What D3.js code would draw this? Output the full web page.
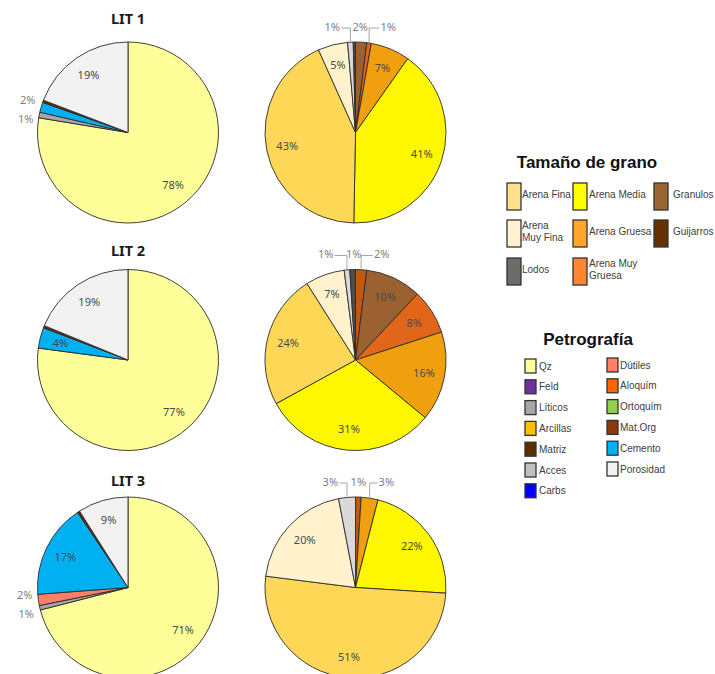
<!DOCTYPE html>
<html><head><meta charset="utf-8">
<script src="https://cdn.jsdelivr.net/npm/d3@7"></script>
<style>body{margin:0;background:#fff}svg{display:block}</style>
</head><body>
<svg id="chart" width="715" height="674"></svg>
<script>
// ---------- DATA ----------
const litTitles = ["LIT 1", "LIT 2", "LIT 3"];

// Petrografía pies (clockwise from 12 o'clock)
const petroCats1 = ["Qz", "Líticos", "Cemento", "Matriz", "Porosidad"];
const petroVals1 = [77.6, 1.0, 1.8, 0.4, 19.2];
const petroCats2 = ["Qz", "Cemento", "Matriz", "Porosidad"];
const petroVals2 = [77.1, 3.7, 0.4, 18.8];
const petroCats3 = ["Qz", "Líticos", "Dútiles", "Cemento", "Matriz", "Porosidad"];
const petroVals3 = [71.0, 0.8, 2.0, 16.8, 0.4, 9.0];

// Tamaño de grano pies (clockwise from 12 o'clock)
const grainCats1 = ["Granulos", "Arena Muy Gruesa", "Arena Gruesa", "Arena Media", "Arena Fina", "Arena Muy Fina", "Limo", "Lodos"];
const grainVals1 = [2.0, 0.8, 7.0, 40.5, 43.0, 5.3, 1.0, 0.4];
const grainCats2 = ["Guijarros", "Granulos", "Arena Muy Gruesa", "Arena Gruesa", "Arena Media", "Arena Fina", "Arena Muy Fina", "Limo", "Lodos"];
const grainVals2 = [2, 10, 8, 16, 31, 24, 7, 1, 1];
const grainCats3 = ["Guijarros", "Arena Gruesa", "Arena Media", "Arena Fina", "Arena Muy Fina", "Limo"];
const grainVals3 = [1, 3, 22, 51, 20, 3];

// Legends
const grainLegendLabels = ["Arena Fina", "Arena Media", "Granulos", "Arena\nMuy Fina", "Arena Gruesa", "Guijarros", "Lodos", "Arena Muy\nGruesa"];
const grainLegendColors = ["#FFE08C", "#FFFF00", "#996633", "#FFF2D2", "#FFA62B", "#633000", "#6E6B6B", "#FF8533"];
const petroLegendLabels = ["Qz", "Feld", "Líticos", "Arcillas", "Matriz", "Acces", "Carbs", "Dútiles", "Aloquím", "Ortoquím", "Mat.Org", "Cemento", "Porosidad"];
const petroLegendColors = ["#FFFF99", "#7030A0", "#A6A6A6", "#FFC000", "#5C2E00", "#BFBFBF", "#0000FF", "#FF8066", "#FF6600", "#92D050", "#8B3A0E", "#00B0F0", "#F2F2F2"];

// slice colours
const petroColor = d3.scaleOrdinal().domain(petroLegendLabels).range(petroLegendColors);
const grainSliceCats = ["Arena Muy Fina", "Arena Fina", "Arena Media", "Arena Gruesa", "Arena Muy Gruesa", "Granulos", "Guijarros", "Lodos", "Limo"];
const grainSliceColors = ["#FFF2CC", "#FFD757", "#FFF700", "#F0A00F", "#E2661A", "#9C6130", "#C0580F", "#4D4D4D", "#D9D9D9"];
const grainColor = d3.scaleOrdinal().domain(grainSliceCats).range(grainSliceColors);

// ---------- LAYOUT ----------
const svg = d3.select("#chart");
const R = 90.5;
const colCX = [128, 355.5];
const rowCY = [132.5, 360, 587.5];
const titleY = [24, 256, 486];

const petroSets = [[petroCats1, petroVals1], [petroCats2, petroVals2], [petroCats3, petroVals3]];
const grainSets = [[grainCats1, grainVals1], [grainCats2, grainVals2], [grainCats3, grainVals3]];

const pie = d3.pie().sort(null).value(d => d.v);
const arc = d3.arc().innerRadius(0).outerRadius(R);
const labelArc = d3.arc().innerRadius(R * 0.77).outerRadius(R * 0.77);

function drawPie(cx, cy, cats, vals, colorFn, side) {
  const data = cats.map((c, i) => ({ c, v: vals[i] }));
  const total = d3.sum(vals);
  const arcs = pie(data);
  const g = svg.append("g").attr("transform", `translate(${cx},${cy})`);
  g.selectAll("path").data(arcs).join("path")
    .attr("d", arc)
    .attr("fill", d => colorFn(d.data.c))
    .attr("stroke", "#2b2b2b")
    .attr("stroke-width", 0.9)
    .attr("stroke-linejoin", "round");

  const lab = arcs.map(d => ({ d, pct: Math.round(d.data.v / total * 100), mid: (d.startAngle + d.endAngle) / 2 }))
    .filter(o => o.pct >= 1);
  const inner = lab.filter(o => o.pct >= 4);
  const outer = lab.filter(o => o.pct < 4);

  g.selectAll("text.in").data(inner).join("text")
    .attr("class", "in")
    .attr("transform", o => `translate(${labelArc.centroid(o.d)})`)
    .attr("text-anchor", "middle").attr("dy", "0.35em")
    .attr("font-family", "Noto Sans, sans-serif").attr("font-size", 11)
    .attr("fill", "#4a4a4a")
    .text(o => o.pct + "%");

  if (side === "left") {
    // labels to the left of the pie, spread vertically
    const items = outer.map(o => ({ o, x: (R + 6) * Math.sin(o.mid), y: -(R + 6) * Math.cos(o.mid) }))
      .sort((p, q) => p.y - q.y);
    const gapY = 19;
    const meanY = d3.mean(items, it => it.y);
    items.forEach((it, i) => { it.ly = meanY + (i - (items.length - 1) / 2) * gapY; });
    items.forEach(it => {
      g.append("text")
        .attr("x", it.x).attr("y", it.ly).attr("dy", "0.35em")
        .attr("text-anchor", "end")
        .attr("font-family", "Noto Sans, sans-serif").attr("font-size", 11)
        .attr("fill", "#7f7f7f")
        .text(it.o.pct + "%");
    });
  } else {
    // labels above the pie, spread horizontally, with leader lines
    const items = outer.map(o => {
      const a = o.mid > Math.PI ? o.mid - 2 * Math.PI : o.mid;
      return { o, a, ax: R * Math.sin(a), ay: -R * Math.cos(a) };
    }).sort((p, q) => p.a - q.a);
    const gap = 28;
    const mean = d3.mean(items, it => it.ax);
    items.forEach((it, i) => { it.lx = mean + (i - (items.length - 1) / 2) * gap; });
    const ly = -R - 15;
    items.forEach(it => {
      if (Math.abs(it.lx - it.ax) > 8) {
        const left = it.lx < it.ax;
        const sx = it.lx + (left ? 9 : -9);
        g.append("path")
          .attr("d", `M${sx},${ly + 1}H${it.ax}V${it.ay - 1}`)
          .attr("fill", "none").attr("stroke", "#a6a6a6").attr("stroke-width", 1);
      }
      g.append("text")
        .attr("x", it.lx).attr("y", ly).attr("dy", "0.35em")
        .attr("text-anchor", "middle")
        .attr("font-family", "Noto Sans, sans-serif").attr("font-size", 11)
        .attr("fill", "#7f7f7f")
        .text(it.o.pct + "%");
    });
  }
}

rowCY.forEach((cy, r) => {
  svg.append("text").attr("x", colCX[0]).attr("y", titleY[r])
    .attr("text-anchor", "middle")
    .attr("font-family", "Noto Sans, sans-serif").attr("font-weight", "bold").attr("font-size", 14.5)
    .attr("fill", "#1a1a1a").text(litTitles[r]);
  drawPie(colCX[0], cy, petroSets[r][0], petroSets[r][1], petroColor, "left");
  drawPie(colCX[1], cy, grainSets[r][0], grainSets[r][1], grainColor, "top");
});

// ---------- LEGENDS ----------
const legFont = "Liberation Sans, Arial, sans-serif";
svg.append("text").attr("x", 587).attr("y", 168).attr("text-anchor", "middle")
  .attr("font-family", legFont).attr("font-weight", "bold").attr("font-size", 17)
  .attr("fill", "#111").text("Tamaño de grano");

const gColX = [507, 573, 654];
const gTextOff = [15, 16, 19];
const gRowY = [183, 220, 258];
grainLegendLabels.forEach((lbl, i) => {
  const c = i % 3, r = Math.floor(i / 3);
  const x = gColX[c], y = gRowY[r];
  svg.append("rect").attr("x", x).attr("y", y).attr("width", 14).attr("height", 27)
    .attr("fill", grainLegendColors[i]).attr("stroke", "#333").attr("stroke-width", 1.3);
  const lines = lbl.split("\n");
  const t = svg.append("text").attr("font-family", legFont).attr("font-size", 10).attr("fill", "#404040");
  lines.forEach((ln, k) => {
    t.append("tspan").attr("x", x + gTextOff[c])
      .attr("y", y + 13.5 - 2 + (k - (lines.length - 1) / 2) * 12)
      .attr("dy", "0.35em").text(ln);
  });
});

svg.append("text").attr("x", 588).attr("y", 345).attr("text-anchor", "middle")
  .attr("font-family", legFont).attr("font-weight", "bold").attr("font-size", 17)
  .attr("fill", "#111").text("Petrografía");

const pColX = [525, 607];
const pTextX = [539, 620];
petroLegendLabels.forEach((lbl, i) => {
  const c = i < 7 ? 0 : 1, r = i < 7 ? i : i - 7;
  const cy = 366 + r * 20.8 - c;
  svg.append("rect").attr("x", pColX[c]).attr("y", cy - 7).attr("width", 11).attr("height", 14)
    .attr("fill", petroLegendColors[i]).attr("stroke", "#333").attr("stroke-width", 1.3);
  svg.append("text").attr("x", pTextX[c]).attr("y", cy).attr("dy", "0.35em")
    .attr("font-family", legFont).attr("font-size", 10).attr("fill", "#404040").text(lbl);
});
</script>
</body></html>
